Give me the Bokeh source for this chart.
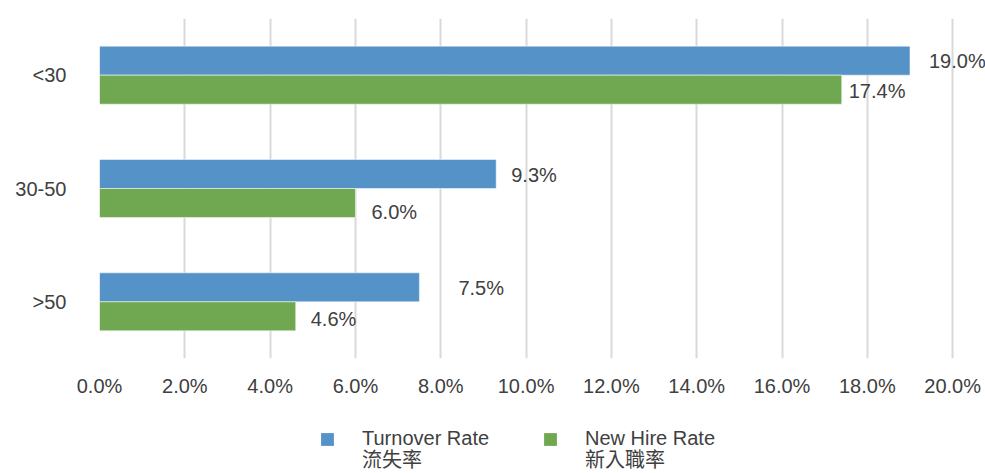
from bokeh.plotting import figure
from bokeh.layouts import column
from bokeh.models import ColumnDataSource, Legend, LegendItem, PrintfTickFormatter, FixedTicker, Range1d, FactorRange
from bokeh.transform import dodge
from bokeh.core.properties import value
from bokeh.embed import file_html
from bokeh.resources import INLINE

categories = ["<30", "30-50", ">50"]
turnover = [19.0, 9.3, 7.5]
new_hire = [17.4, 6.0, 4.6]
turnover_labels = ["19.0%", "9.3%", "7.5%"]
new_hire_labels = ["17.4%", "6.0%", "4.6%"]
x_ticks = [0, 2, 4, 6, 8, 10, 12, 14, 16, 18, 20]
series_en = ["Turnover Rate", "New Hire Rate"]
series_zh = ["流失率", "新入職率"]

# label styling offsets (pixels)
turnover_pad = [19, 15, 39]
new_hire_pad = [7, 16, 15]
turnover_dy = [0, 1, 1]
new_hire_dy = [1, 9, 3]

BLUE = "#5592c8"
GREEN = "#70a851"
TXT = "#404040"
FONT = "Liberation Sans, Noto Sans CJK TC"

src = ColumnDataSource(dict(
    cat=categories, turnover=turnover, new_hire=new_hire,
    tl=turnover_labels, nl=new_hire_labels,
    tpad=turnover_pad, npad=new_hire_pad, tdy=turnover_dy, ndy=new_hire_dy,
))

p = figure(
    y_range=FactorRange(*list(reversed(categories))),
    x_range=Range1d(0, 20.77),
    width=985, height=428,
    min_border_left=99, min_border_right=0, min_border_top=18, min_border_bottom=70,
    output_backend="svg", toolbar_location=None,
)
p.outline_line_color = None
p.background_fill_color = "white"
p.border_fill_color = "white"

yb = dodge("cat", 0.128, range=p.y_range)
yg = dodge("cat", -0.128, range=p.y_range)

p.hbar(y=yb, left=0, right="turnover", height=0.256, source=src,
       fill_color=BLUE, line_color="white", line_alpha=0.5, line_width=1)
p.hbar(y=yg, left=0, right="new_hire", height=0.256, source=src,
       fill_color=GREEN, line_color="white", line_alpha=0.5, line_width=1)

p.text(x="turnover", y=yb, text="tl", x_offset="tpad", y_offset="tdy", source=src,
       text_font=value(FONT), text_font_size="20px", text_color=TXT,
       text_baseline="middle", text_align="left")
p.text(x="new_hire", y=yg, text="nl", x_offset="npad", y_offset="ndy", source=src,
       text_font=value(FONT), text_font_size="20px", text_color=TXT,
       text_baseline="middle", text_align="left")

p.xaxis.ticker = FixedTicker(ticks=x_ticks)
p.xaxis.formatter = PrintfTickFormatter(format="%.1f%%")
for ax in (p.xaxis[0], p.yaxis[0]):
    ax.axis_line_color = None
    ax.major_tick_line_color = None
    ax.minor_tick_line_color = None
    ax.major_label_text_font = FONT
    ax.major_label_text_font_size = "20px"
    ax.major_label_text_color = TXT
p.xaxis.major_label_standoff = 10
p.yaxis.major_label_standoff = 27

p.xgrid.ticker = FixedTicker(ticks=x_ticks)
p.xgrid.grid_line_color = "#d9d9d9"
p.xgrid.grid_line_width = 2
p.ygrid.grid_line_color = None

# legend figure: the bars are drawn again but fall outside its x range,
# so only their legend swatches are visible
lg = figure(width=985, height=45, min_border=0, output_backend="svg", toolbar_location=None,
            x_axis_type=None, y_axis_type=None,
            x_range=Range1d(-2, -1), y_range=FactorRange(*categories))
lg.outline_line_color = None
lg.grid.grid_line_color = None
lg.border_fill_color = "white"
l1 = lg.hbar(y="cat", left=0, right="turnover", height=0.5, source=src, fill_color=BLUE, line_color=None)
l2 = lg.hbar(y="cat", left=0, right="new_hire", height=0.5, source=src, fill_color=GREEN, line_color=None)
l3 = lg.hbar(y="cat", left=0, right="turnover", height=0.5, source=src, fill_alpha=0, line_color=None)

common = dict(
    orientation="horizontal",
    label_text_font=FONT, label_text_font_size="20px", label_text_color=TXT,
    label_standoff=27, glyph_width=16, glyph_height=16, spacing=45, label_width=135,
    border_line_color=None, background_fill_alpha=0, margin=0, padding=0,
)
legend_en = Legend(items=[LegendItem(label=series_en[0], renderers=[l1]),
                          LegendItem(label=series_en[1], renderers=[l2])],
                   location=(220, 23), label_height=22, **common)
legend_zh = Legend(items=[LegendItem(label=series_zh[0], renderers=[l3]),
                          LegendItem(label=series_zh[1], renderers=[l3])],
                   location=(220, 0), label_height=18, **common)
lg.add_layout(legend_en)
lg.add_layout(legend_zh)

layout = column(p, lg, spacing=0)
open("out.html", "w").write(file_html(layout, INLINE))
